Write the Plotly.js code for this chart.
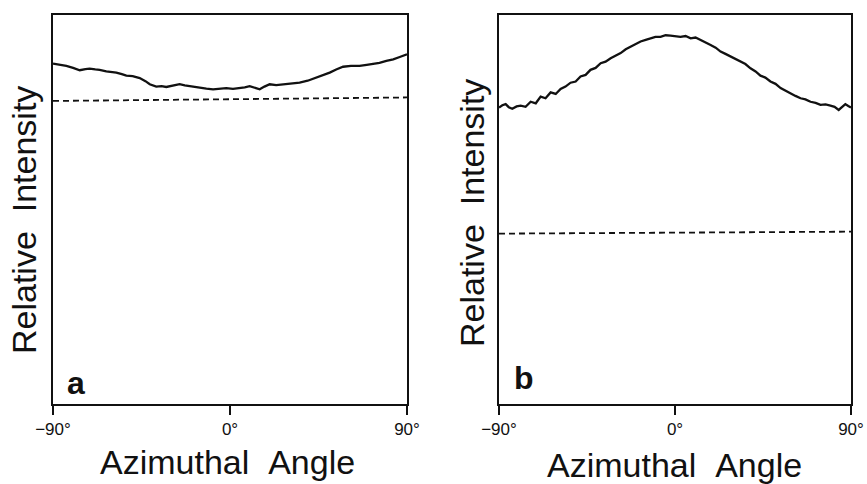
<!DOCTYPE html>
<html>
<head>
<meta charset="utf-8">
<script src="https://cdn.plot.ly/plotly-3.0.1.min.js"></script>
<style>html,body{margin:0;padding:0;background:#fff;}#chart{width:867px;height:484px;}</style>
</head>
<body>
<div id="chart"></div>
<script>
// Panel a: solid curve (angle in degrees, relative intensity)
const angleA = [-90,-86.5,-83.2,-79.8,-76.4,-73.5,-71.4,-68.5,-66.3,-62.9,-60.2,-57.8,-55.0,-52.7,-49.5,-45.9,-43.0,-40.8,-37.5,-34.8,-32.4,-29.0,-25.6,-23.0,-20.5,-17.8,-15.4,-12.0,-8.6,-5.5,-1.9,1.5,4.9,7.5,10.0,12.5,15.1,17.5,20.2,23.5,26.9,31.0,35.4,39.5,43.9,47.5,50.7,54.0,57.5,61.5,65.9,69.5,72.7,76.0,79.5,83.0,86.3,90];
const intenA = [87.5,87.2,86.9,86.4,85.8,86.1,86.2,86.0,85.9,85.5,85.4,85.2,84.8,84.4,84.3,83.8,83.0,82.2,81.6,81.7,81.5,81.9,82.2,81.9,81.7,81.4,81.4,81.1,80.9,81.1,81.2,81.0,81.2,81.4,81.7,81.3,80.9,81.6,82.2,82.0,82.2,82.4,82.6,83.1,83.9,84.6,85.2,86.0,86.7,86.9,86.9,87.2,87.4,87.7,88.2,88.6,89.2,89.9];
// Panel a: dashed baseline
const angleAd = [-90,-45,0,45,90];
const intenAd = [77.9,78.1,78.3,78.6,78.8];

// Panel b: solid curve
const angleB = [-90,-88.3,-86.6,-85.0,-83.2,-81.0,-78.9,-76.4,-73.8,-71.2,-68.7,-66.2,-63.6,-61.0,-58.5,-56.0,-53.4,-50.8,-48.3,-45.7,-43.2,-40.6,-38.0,-35.5,-32.9,-30.4,-27.8,-25.2,-22.7,-20.2,-17.6,-15.0,-12.5,-10.0,-7.4,-4.8,-2.3,0.3,2.8,5.4,8.0,10.5,13.1,15.6,18.2,20.8,23.3,25.8,28.4,31.0,33.5,36.0,38.6,41.2,43.7,46.2,48.8,51.4,54.0,56.5,59.1,61.6,64.2,66.7,69.3,71.9,74.4,77.0,79.5,81.6,83.7,85.4,87.1,88.6,90];
const intenB = [76.2,76.8,77.1,76.3,75.9,76.5,76.7,76.4,77.7,77.3,79.0,78.6,80.1,79.7,81.0,81.6,82.6,82.9,84.2,84.6,85.9,86.4,87.6,88.0,88.9,89.5,90.2,91.2,91.9,92.4,93.2,93.6,94.0,94.4,94.4,94.8,94.7,94.5,94.4,94.6,94.0,94.2,93.6,92.9,92.3,91.6,90.6,90.0,89.3,88.7,88.0,87.4,86.3,85.5,84.4,83.9,82.9,82.3,81.2,80.5,79.9,79.2,78.6,78.3,77.7,77.4,76.9,77.0,76.7,76.4,75.6,76.3,77.1,76.6,76.2];
// Panel b: dashed baseline
const angleBd = [-90,-45,0,45,90];
const intenBd = [43.8,43.9,44.0,44.2,44.3];

const tickVals = [-90, 0, 90];
const tickText = ['\u221290\u00b0', '0\u00b0', '90\u00b0'];
const xTitle = 'Azimuthal&nbsp;&nbsp;Angle';
const yTitle = 'Relative&nbsp;&nbsp;Intensity';
const panelLabels = ['a', 'b'];

const W = 867, H = 484;
const fontFam = '"Liberation Sans", Arial, Helvetica, sans-serif';

const traces = [
  {x: angleA, y: intenA, mode: 'lines', line: {color: '#111', width: 2.3}, xaxis: 'x', yaxis: 'y', hoverinfo: 'skip'},
  {x: angleAd, y: intenAd, mode: 'lines', line: {color: '#111', width: 1.8, dash: '6px,4px'}, xaxis: 'x', yaxis: 'y', hoverinfo: 'skip'},
  {x: angleB, y: intenB, mode: 'lines', line: {color: '#111', width: 2.3}, xaxis: 'x2', yaxis: 'y2', hoverinfo: 'skip'},
  {x: angleBd, y: intenBd, mode: 'lines', line: {color: '#111', width: 1.8, dash: '6px,4px'}, xaxis: 'x2', yaxis: 'y2', hoverinfo: 'skip'}
];

function xax(domain, anchor) {
  return {domain: domain, anchor: anchor, range: [-90, 90], showgrid: false, zeroline: false,
    showline: true, mirror: true, linecolor: '#111', linewidth: 2,
    ticks: 'outside', ticklen: 9, tickwidth: 2, tickcolor: '#111',
    tickmode: 'array', tickvals: tickVals, ticktext: tickText,
    tickfont: {family: fontFam, size: 17, color: '#111'}, fixedrange: true};
}
function yax(domain, anchor) {
  return {domain: domain, anchor: anchor, range: [0, 100], showgrid: false, zeroline: false,
    showline: true, mirror: true, linecolor: '#111', linewidth: 2,
    ticks: '', showticklabels: false, fixedrange: true};
}
const yDom = [1 - 404 / H, 1 - 15 / H];

const ann = [];
function addText(text, x, y, size, bold, angle) {
  ann.push({text: bold ? '<b>' + text + '</b>' : text, x: x / W, y: 1 - y / H, xref: 'paper', yref: 'paper',
    xanchor: 'center', yanchor: 'middle', showarrow: false, textangle: angle || 0,
    font: {family: fontFam, size: size, color: '#111'}});
}
addText(xTitle, 228, 462, 34);
addText(xTitle, 674, 465, 34);
addText(yTitle, 24, 220, 34, false, -90);
addText(yTitle, 472, 213, 34, false, -90);
addText(panelLabels[0], 76, 383, 32, true);
addText(panelLabels[1], 524, 378, 32, true);

const layout = {
  width: W, height: H, margin: {l: 0, r: 0, t: 0, b: 0},
  paper_bgcolor: '#fff', plot_bgcolor: '#fff', showlegend: false,
  xaxis: xax([53 / W, 407 / W], 'y'),
  yaxis: yax(yDom, 'x'),
  xaxis2: xax([499 / W, 851 / W], 'y2'),
  yaxis2: yax(yDom, 'x2'),
  annotations: ann
};
Plotly.newPlot('chart', traces, layout, {displayModeBar: false, staticPlot: true});
</script>
</body>
</html>
